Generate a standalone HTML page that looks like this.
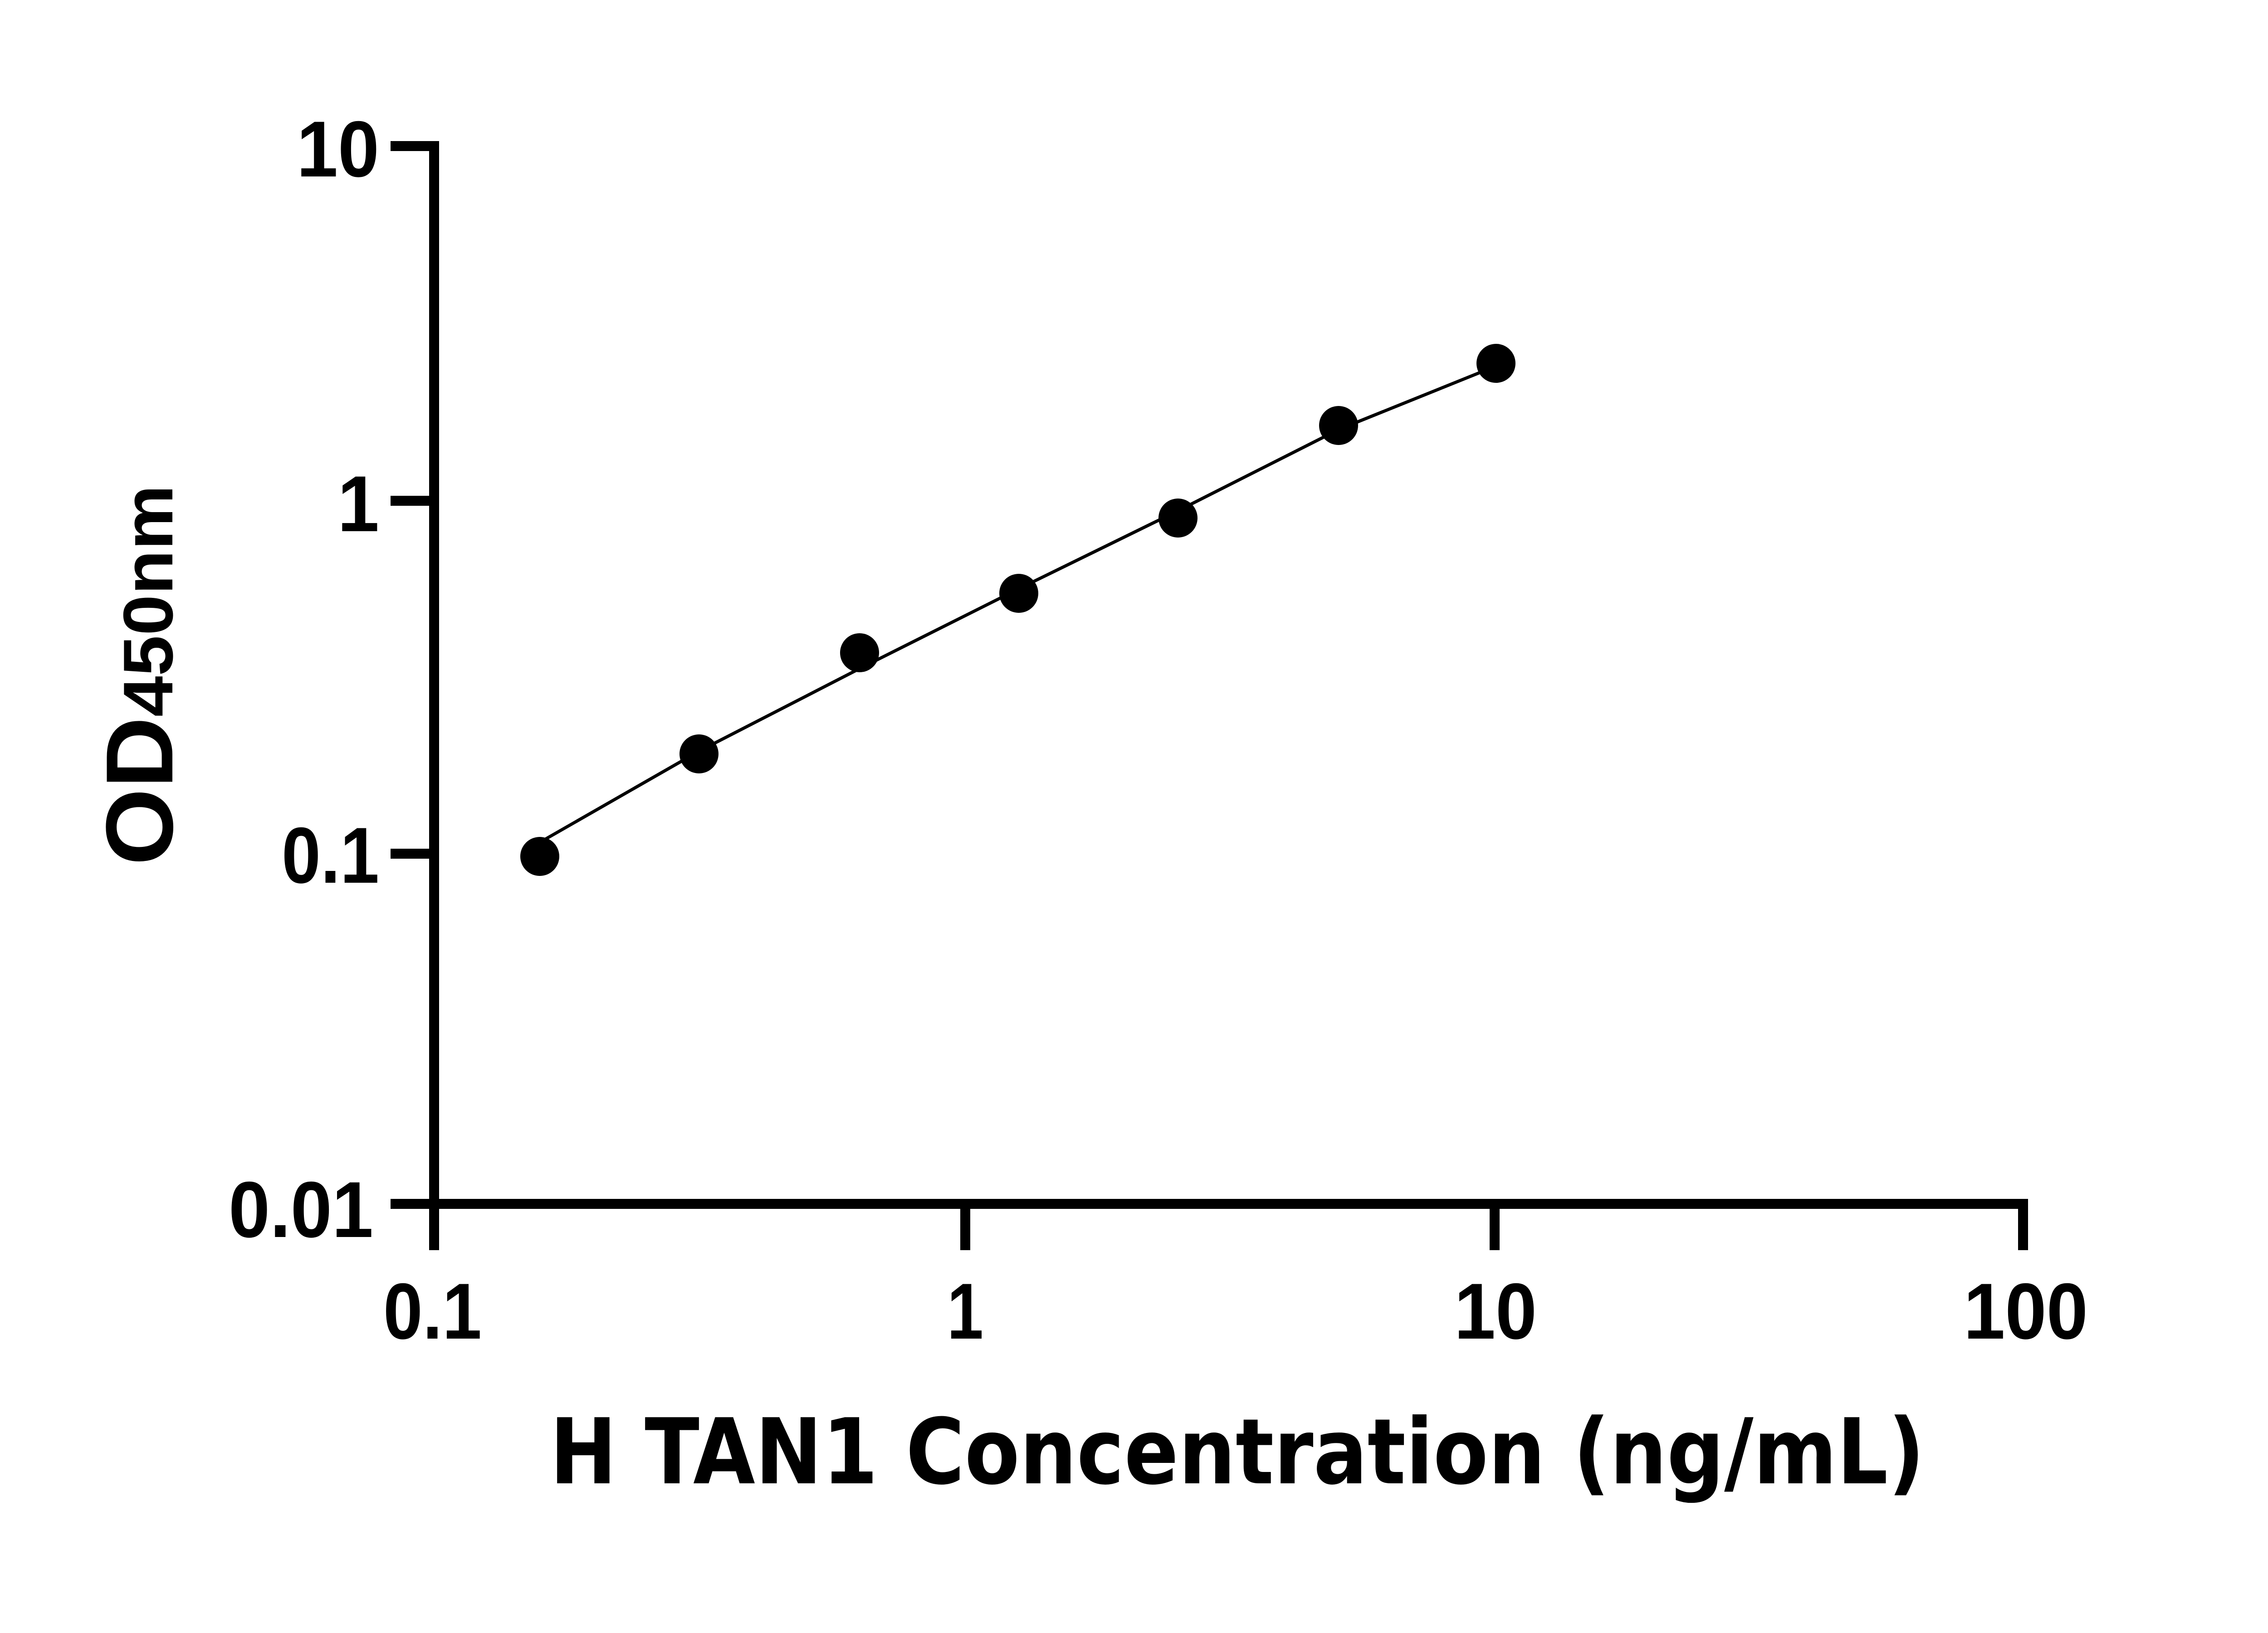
<!DOCTYPE html>
<html><head><meta charset="utf-8"><style>html,body{margin:0;padding:0;background:#fff}svg{display:block}</style></head>
<body>
<svg width="5142" height="3600" viewBox="0 0 5142 3600" xmlns="http://www.w3.org/2000/svg">
<rect width="5142" height="3600" fill="#fff"/>
<g stroke="#000" stroke-width="22" fill="none" stroke-linecap="butt">
<line x1="957" y1="311" x2="957" y2="2756"/>
<line x1="946" y1="2654" x2="4471" y2="2654"/>
<line x1="861" y1="322" x2="968" y2="322"/>
<line x1="861" y1="1104" x2="968" y2="1104"/>
<line x1="861" y1="1882" x2="968" y2="1882"/>
<line x1="861" y1="2654" x2="968" y2="2654"/>
<line x1="2128" y1="2643" x2="2128" y2="2756"/>
<line x1="3295" y1="2643" x2="3295" y2="2756"/>
<line x1="4460" y1="2643" x2="4460" y2="2756"/>
</g>
<g font-family="Liberation Sans, Arial, sans-serif" font-weight="bold" font-size="175" fill="#000">
<text x="836" y="389" text-anchor="end" textLength="182" lengthAdjust="spacingAndGlyphs">10</text>
<text x="836" y="1171" text-anchor="end" textLength="92" lengthAdjust="spacingAndGlyphs">1</text>
<text x="836" y="1946" text-anchor="end" textLength="215" lengthAdjust="spacingAndGlyphs">0.1</text>
<text x="823" y="2727" text-anchor="end" textLength="319" lengthAdjust="spacingAndGlyphs">0.01</text>
<text x="845" y="2951" textLength="217" lengthAdjust="spacingAndGlyphs">0.1</text>
<text x="2088" y="2951" textLength="80" lengthAdjust="spacingAndGlyphs">1</text>
<text x="3206" y="2951" textLength="182" lengthAdjust="spacingAndGlyphs">10</text>
<text x="4329" y="2951" textLength="274" lengthAdjust="spacingAndGlyphs">100</text>
</g>
<text x="1212" y="3270" font-family="DejaVu Sans, sans-serif" font-weight="bold" font-size="200" textLength="3031" lengthAdjust="spacingAndGlyphs">H TAN1 Concentration (ng/mL)</text>
<text transform="translate(380,1908) rotate(-90)" font-family="Liberation Sans, Arial, sans-serif" font-weight="bold" fill="#000" textLength="839" lengthAdjust="spacingAndGlyphs"><tspan font-size="210">OD</tspan><tspan font-size="155">450nm</tspan></text>
<path d="M1190,1857 L1541,1656 L1895,1474 L2246,1298 L2597,1126 L2951,947 L3298,807" fill="none" stroke="#000" stroke-width="7"/>
<g fill="#000">
<circle cx="1190" cy="1888" r="43"/>
<circle cx="1541" cy="1662" r="43"/>
<circle cx="1895" cy="1439" r="43"/>
<circle cx="2246" cy="1308" r="43"/>
<circle cx="2597" cy="1142" r="43"/>
<circle cx="2951" cy="938" r="43"/>
<circle cx="3298" cy="801" r="43"/>
</g>
</svg>
</body></html>
